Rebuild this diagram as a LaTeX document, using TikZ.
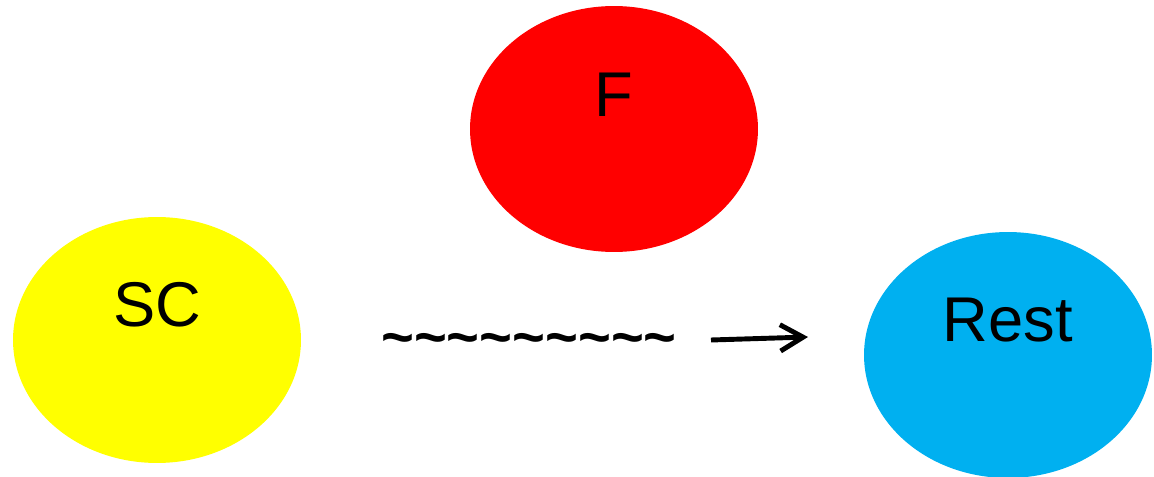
\documentclass[tikz,border=0pt]{standalone}
\usepackage{fontspec}
\setmainfont{Liberation Sans}
\usetikzlibrary{shapes.geometric,arrows.meta}
\definecolor{restblue}{RGB}{0,176,240}
\definecolor{scyellow}{RGB}{255,255,0}
\begin{document}
\begin{tikzpicture}[x=0.02cm, y=-0.02cm,
  every node/.style={font=\fontsize{36}{42}\selectfont},
  blob/.style={ellipse, draw=none, inner sep=0pt, minimum width=5.76cm, minimum height=4.92cm}]
  \useasboundingbox (0,0) rectangle (1154,477);
  % the three groups
  \node[blob, fill=red] (f) at (614,129) {};
  \node at ([yshift=0.68cm]f.center) (flabel) {F};
  \node[blob, fill=scyellow] (sc) at (157,340) {};
  \node at ([yshift=0.70cm]sc.center) (sclabel) {SC};
  \node[blob, fill=restblue] (rest) at (1008,355) {};
  \node at ([yshift=0.70cm]rest.center) (restlabel) {Rest};
  % wavy link and arrow
  \node[font=\fontsize{32}{38}\selectfont\bfseries] (waves) at (529,345)
    {\textasciitilde\textasciitilde\textasciitilde\textasciitilde\textasciitilde\textasciitilde\textasciitilde\textasciitilde\textasciitilde};
  \coordinate (tail) at (711,340);
  \coordinate (head) at (808,337);
  \draw[line width=2.8pt, -{Straight Barb[length=13pt,width=15pt]}] (tail) -- (head);
\end{tikzpicture}
\end{document}
